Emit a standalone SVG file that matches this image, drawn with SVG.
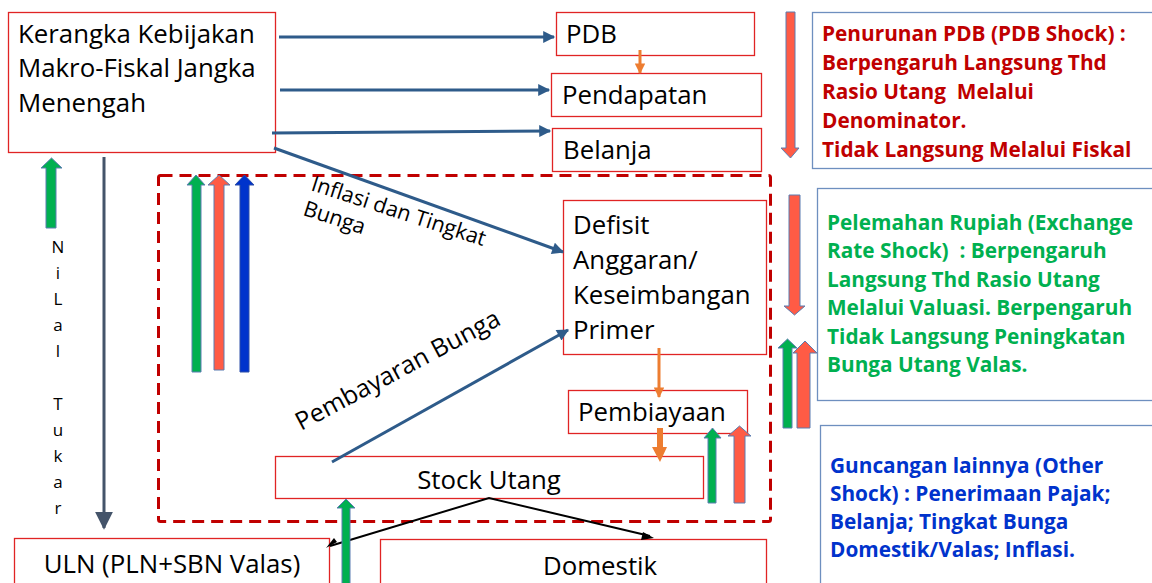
<svg xmlns="http://www.w3.org/2000/svg" width="1152" height="583" viewBox="0 0 1152 583">
<style>
.box{fill:#fff;stroke:#E02424;stroke-width:1.3}
.ibox{fill:#fff;stroke:#6E8FBF;stroke-width:1.3}
.t{font-family:"Open Sans","Liberation Sans",sans-serif;font-size:25.8px;fill:#000}
.b{font-family:"Open Sans","Liberation Sans",sans-serif;font-size:20.8px;font-weight:bold}
.con{stroke:#2E5B8A;stroke-width:3;fill:none}
.blk{stroke:#000;stroke-width:2;fill:none}
.org{stroke:#ED7D31;fill:none}
.ba{stroke:#5B7DB1;stroke-width:1}
.g{fill:#00B050}.r{fill:#FF5B45}.bl{fill:#0033CC}
</style>
<defs>
<marker id="mb" viewBox="0 0 10 10" refX="9" refY="5" markerWidth="5" markerHeight="4" orient="auto" markerUnits="strokeWidth"><path d="M0,0L10,5L0,10z" fill="#2E5B8A"/></marker>
<marker id="mg" viewBox="0 0 10 10" refX="9" refY="5" markerWidth="6" markerHeight="6" orient="auto" markerUnits="strokeWidth"><path d="M0,0L10,5L0,10z" fill="#44546A"/></marker>
<marker id="mo" viewBox="0 0 10 10" refX="9" refY="5" markerWidth="4" markerHeight="3.5" orient="auto" markerUnits="strokeWidth"><path d="M0,0L10,5L0,10z" fill="#ED7D31"/></marker>
</defs>

<!-- dashed boundary -->
<rect x="158.5" y="175.5" width="612" height="346" rx="2" fill="none" stroke="#C00000" stroke-width="3" stroke-dasharray="12 7"/>

<g id="kerangka">
<rect class="box" x="8.5" y="12.5" width="267" height="140"/>
<text class="t"><tspan x="18" y="43">Kerangka Kebijakan</tspan><tspan x="18" y="77">Makro-Fiskal Jangka</tspan><tspan x="18" y="112">Menengah</tspan></text>
</g>
<g id="pdb"><rect class="box" x="556.5" y="12.5" width="198" height="43"/><text class="t" x="566" y="43">PDB</text></g>
<g id="pendapatan"><rect class="box" x="551.5" y="73.5" width="210" height="43"/><text class="t" x="562" y="104">Pendapatan</text></g>
<g id="belanja"><rect class="box" x="552.5" y="128.5" width="209" height="43"/><text class="t" x="563" y="159">Belanja</text></g>
<g id="defisit"><rect class="box" x="563.5" y="200.5" width="203" height="154"/>
<text class="t"><tspan x="573" y="234">Defisit</tspan><tspan x="573" y="269">Anggaran/</tspan><tspan x="573" y="304">Keseimbangan</tspan><tspan x="573" y="339">Primer</tspan></text></g>
<g id="pembiayaan"><rect class="box" x="568.5" y="390.5" width="179" height="43"/><text class="t" x="578" y="421">Pembiayaan</text></g>
<g id="stock"><rect class="box" x="275.5" y="456.5" width="428" height="42"/><text class="t" x="489" y="489" text-anchor="middle">Stock Utang</text></g>
<g id="uln"><rect class="box" x="14.5" y="538.5" width="315" height="60"/><text class="t" x="172" y="573" text-anchor="middle">ULN (PLN+SBN Valas)</text></g>
<g id="domestik"><rect class="box" x="380.5" y="539.5" width="386" height="60"/><text class="t" x="543" y="575">Domestik</text></g>

<g id="pdb-shock"><rect class="ibox" x="812.5" y="12.5" width="350" height="156"/>
<text class="b" fill="#C00000"><tspan x="822" y="41">Penurunan PDB (PDB Shock) :</tspan><tspan x="822" y="70">Berpengaruh Langsung Thd</tspan><tspan x="822" y="99">Rasio Utang&#160; Melalui</tspan><tspan x="822" y="128">Denominator.</tspan><tspan x="822" y="157">Tidak Langsung Melalui Fiskal</tspan></text></g>
<g id="er-shock"><rect class="ibox" x="817.5" y="188.5" width="350" height="212"/>
<text class="b" fill="#00B050"><tspan x="827" y="230">Pelemahan Rupiah (Exchange</tspan><tspan x="827" y="258">Rate Shock)&#160; : Berpengaruh</tspan><tspan x="827" y="287">Langsung Thd Rasio Utang</tspan><tspan x="827" y="315">Melalui Valuasi. Berpengaruh</tspan><tspan x="827" y="344">Tidak Langsung Peningkatan</tspan><tspan x="827" y="372">Bunga Utang Valas.</tspan></text></g>
<g id="other-shock"><rect class="ibox" x="820.5" y="425.5" width="350" height="180"/>
<text class="b" fill="#0033CC"><tspan x="830" y="473">Guncangan lainnya (Other</tspan><tspan x="830" y="501">Shock) : Penerimaan Pajak;</tspan><tspan x="830" y="529">Belanja; Tingkat Bunga</tspan><tspan x="830" y="557">Domestik/Valas; Inflasi.</tspan></text></g>

<g id="nilai-tukar" class="t" style="font-size:17px" text-anchor="middle">
<text x="58" y="253">N</text><text x="58" y="279">i</text><text x="58" y="305">L</text><text x="58" y="331">a</text><text x="58" y="357">l</text>
<text x="58" y="410">T</text><text x="58" y="436">u</text><text x="58" y="462">k</text><text x="58" y="488">a</text><text x="58" y="514">r</text>
</g>

<g id="connectors">
<line class="con" x1="279" y1="37" x2="554" y2="37" marker-end="url(#mb)"/>
<line class="con" x1="280" y1="90" x2="549" y2="90" marker-end="url(#mb)"/>
<line class="con" x1="272" y1="133" x2="550" y2="131" marker-end="url(#mb)"/>
<line class="con" x1="274" y1="148" x2="563" y2="252" marker-end="url(#mb)"/>
<line class="con" x1="332" y1="462" x2="568" y2="330" marker-end="url(#mb)"/>
<line class="org" stroke-width="3" x1="640" y1="50" x2="640" y2="73" marker-end="url(#mo)"/>
<line class="org" stroke-width="3" x1="659" y1="348" x2="659" y2="397" marker-end="url(#mo)"/>
<polygon fill="#ED7D31" points="657,428 663,428 663,447 667,447 660,462 652,447 657,447"/>
<line stroke="#44546A" stroke-width="3" x1="104" y1="157" x2="104" y2="528" marker-end="url(#mg)"/>
<polyline class="blk" points="330,546 489,498 650,536"/>
<path d="M337,542 L326,548 L334,538 z" fill="#000"/>
<path d="M643,532 L654,538 L641,540 z" fill="#000"/>
<text class="t" style="font-size:21.5px" transform="translate(310,190) rotate(18)"><tspan x="0" y="0">Inflasi dan Tingkat</tspan><tspan x="0" y="26">Bunga</tspan></text>
<text class="t" style="font-size:25px" transform="translate(301,431) rotate(-28)">Pembayaran Bunga</text>
</g>

<g id="shock-arrows">
<polygon class="ba g" points="51.5,158 62,168 56,168 56,228 46,228 46,168 41,168"/>
<polygon class="ba g" points="196,175 205,185 201,185 201,372 192,372 192,185 187,185"/>
<polygon class="ba r" points="219,175 230,185 224,185 224,370 214,370 214,185 208,185"/>
<polygon class="bl" stroke="#2C4FA8" stroke-width="1" points="244.5,175 254,185 249,185 249,372 240,372 240,185 235,185"/>
<polygon class="ba r" points="786,12 795,12 795,148 799,148 790.5,158 781,148 786,148"/>
<polygon class="ba r" points="789,195 800,195 800,306 805,306 794.5,315 784,306 789,306"/>
<polygon class="ba g" points="787.5,339 797,348 792,348 792,428 783,428 783,348 778,348"/>
<polygon class="ba r" points="805,341 817,353 810,353 810,428 797,428 797,353 793,353"/>
<polygon class="ba g" points="712.5,428 721,438 716,438 716,503 708,503 708,438 704,438"/>
<polygon class="ba r" points="739.5,426 751,436 745,436 745,503 734,503 734,436 728,436"/>
<polygon class="ba g" points="346,499 355,508 350,508 350,590 342,590 342,508 337,508"/>
</g>
</svg>
